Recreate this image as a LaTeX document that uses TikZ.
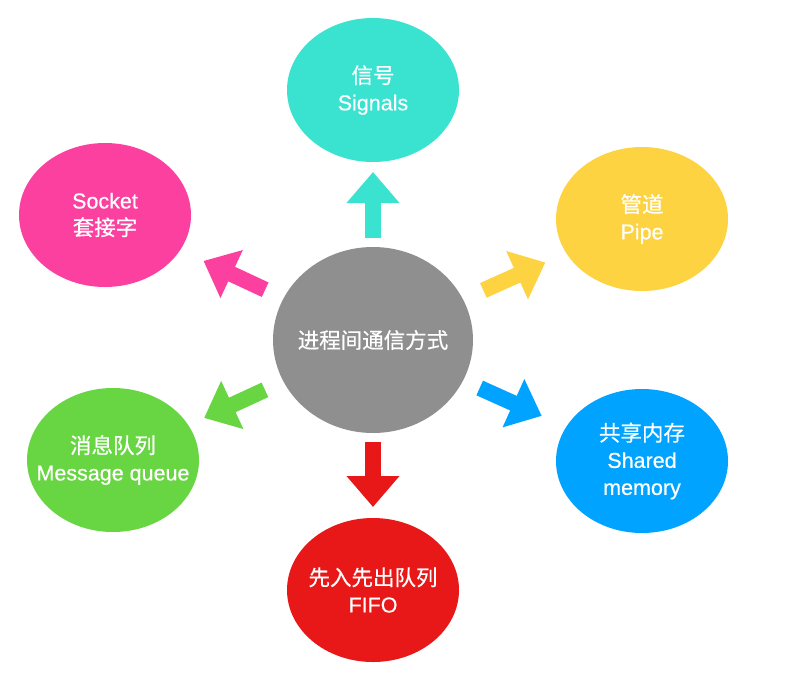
\documentclass[tikz,border=0pt]{standalone}
\usepackage{fontspec}
\setmainfont{Liberation Sans}[BoldFont=Liberation Sans,BoldFeatures={FakeBold=0.5}]
\newfontfamily\cjk{Noto Sans CJK SC}[BoldFont=Noto Sans CJK SC,BoldFeatures={FakeBold=0.5}]
\usetikzlibrary{arrows.meta}
\usetikzlibrary{shapes.geometric}
\usetikzlibrary{calc}

\definecolor{hubgray}{RGB}{143,143,143}
\definecolor{sigcol}{RGB}{58,226,208}
\definecolor{pipecol}{RGB}{253,211,65}
\definecolor{sockcol}{RGB}{252,64,160}
\definecolor{mqcol}{RGB}{104,214,66}
\definecolor{shmcol}{RGB}{0,163,255}
\definecolor{fifocol}{RGB}{232,24,24}

\begin{document}
\begin{tikzpicture}[x=1pt,y=-1pt,
    bubble/.style={ellipse,draw=none,text=white,align=center,
      inner xsep=-45pt,inner ysep=0pt,
      minimum width=172pt,minimum height=144pt,
      font=\fontsize{21.5}{27}\selectfont\bfseries},
    fat/.style={draw=#1,line width=16pt,-{Triangle[width=51pt,length=31pt]}}]
  \useasboundingbox[fill=white] (0,0) rectangle (800,675);

  % hub in the middle
  \node[bubble,fill=hubgray,minimum width=200pt,minimum height=186pt] (ipc) at (373,340) {{\cjk 进程间通信方式}};

  \node[bubble,fill=sigcol]  (sig)  at (373,90)  {{\cjk 信号}\\Signals};
  \node[bubble,fill=pipecol] (pipe) at (642,219) {{\cjk 管道}\\Pipe};
  \node[bubble,fill=sockcol] (sock) at (105,215) {Socket\\{\cjk 套接字}};
  \node[bubble,fill=mqcol]   (mq)   at (113,460) {{\cjk 消息队列}\\Message queue};
  \node[bubble,fill=shmcol]  (shm)  at (642,461) {{\cjk 共享内存}\\Shared\\memory};
  \node[bubble,fill=fifocol] (fifo) at (373,590) {{\cjk 先入先出队列}\\FIFO};

  \draw[fat=sigcol]  ($(ipc)!102pt!(sig)$)  -- ($(ipc)!168pt!(sig)$);
  \draw[fat=fifocol] ($(ipc)!102pt!(fifo)$) -- ($(ipc)!167pt!(fifo)$);
  \draw[fat=pipecol] ($(ipc)!121pt!(pipe)$) -- ($(ipc)!189pt!(pipe)$);
  \draw[fat=sockcol] ($(ipc)!119pt!(sock)$) -- ($(ipc)!187pt!(sock)$);
  \draw[fat=mqcol]   ($(ipc)!119pt!(mq)$)   -- ($(ipc)!186pt!(mq)$);
  \draw[fat=shmcol]  ($(ipc)!117pt!(shm)$)  -- ($(ipc)!185pt!(shm)$);
\end{tikzpicture}
\end{document}
